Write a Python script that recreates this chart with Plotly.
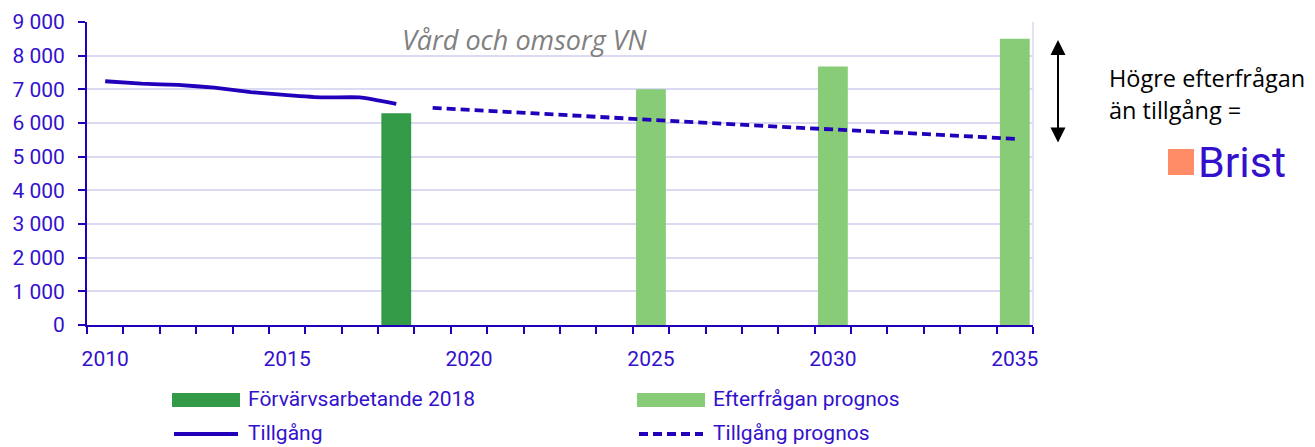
import plotly.graph_objects as go

# ---------------- data ----------------
years_hist = [2010, 2011, 2012, 2013, 2014, 2015, 2016, 2017, 2018]
tillgang = [7240, 7170, 7130, 7050, 6920, 6830, 6760, 6760, 6570]

years_prog = [2019, 2020, 2021, 2022, 2023, 2024, 2025, 2026, 2027,
              2028, 2029, 2030, 2031, 2032, 2033, 2034, 2035]
tillgang_prognos = [6450, 6390, 6330, 6270, 6200, 6140, 6080, 6030, 5970,
                    5920, 5860, 5810, 5760, 5700, 5640, 5590, 5530]

forv_year = [2018]
forv_value = [6290]

eft_years = [2025, 2030, 2035]
eft_values = [7000, 7680, 8500]

y_ticks = [0, 1000, 2000, 3000, 4000, 5000, 6000, 7000, 8000, 9000]
x_label_years = [2010, 2015, 2020, 2025, 2030, 2035]

title_text = "Vård och omsorg VN"
names = ["Förvärvsarbetande 2018", "Efterfrågan prognos", "Tillgång", "Tillgång prognos"]

# ---------------- styles ----------------
BLUE_LINE = "#2200BB"
BLUE_TXT = "#3311CC"
DARK_GREEN = "#339A47"
LIGHT_GREEN = "#88CC77"
GRID = "#DADAF2"
CORAL = "#FF8C66"

PAGE_W, PAGE_H = 1315, 447
OFF = 8  # default body margin of the html page
W, H = PAGE_W - OFF, PAGE_H - OFF
# plot area in page pixels
L, R, T, B = 87, 1033, 22, 325


def px(x):
    return (x - L) / (R - L)


def py(y):
    return (B - y) / (B - T)


fig = go.Figure()

fig.add_trace(go.Bar(x=forv_year, y=forv_value, name=names[0],
                     marker=dict(color=DARK_GREEN, line=dict(width=0)),
                     width=0.82, showlegend=False))
fig.add_trace(go.Bar(x=eft_years, y=eft_values, name=names[1],
                     marker=dict(color=LIGHT_GREEN, line=dict(width=0)),
                     width=0.82, showlegend=False))
fig.add_trace(go.Scatter(x=years_hist, y=tillgang, name=names[2], mode="lines",
                         line=dict(color=BLUE_LINE, width=3.8, shape="spline", smoothing=0.4),
                         showlegend=False))
fig.add_trace(go.Scatter(x=years_prog, y=tillgang_prognos, name=names[3], mode="lines",
                         line=dict(color=BLUE_LINE, width=3.8, dash="9px,5px"),
                         showlegend=False))

first_year = years_hist[0]
last_year = years_prog[-1]

fig.update_layout(
    width=W, height=H,
    margin=dict(l=L - OFF, r=PAGE_W - R, t=T - OFF, b=PAGE_H - B, pad=0, autoexpand=False),
    paper_bgcolor="white", plot_bgcolor="white",
    font=dict(family="Roboto", color=BLUE_TXT, size=21),
    barmode="overlay",
    xaxis=dict(
        automargin=False,
        range=[first_year - 0.5, last_year + 0.5],
        tickmode="array", tickvals=x_label_years,
        ticktext=[str(v) for v in x_label_years],
        ticks="outside", ticklen=7, tickcolor="rgba(0,0,0,0)",
        ticklabelstandoff=7,
        tickfont=dict(family="Roboto", size=21, color=BLUE_TXT),
        showgrid=False, zeroline=False,
        showline=True, linecolor=BLUE_LINE, linewidth=2,
        minor=dict(tickmode="linear", tick0=first_year - 0.5, dtick=1,
                   ticks="outside", ticklen=7, tickwidth=2, tickcolor=BLUE_LINE,
                   showgrid=False),
    ),
    yaxis=dict(
        automargin=False,
        range=[0, 9000],
        tickmode="array", tickvals=y_ticks,
        ticktext=[f"{v:,}".replace(",", " ") for v in y_ticks],
        ticks="outside", ticklen=7, tickwidth=2, tickcolor=BLUE_LINE,
        ticklabelstandoff=9,
        tickfont=dict(family="Roboto", size=21, color=BLUE_TXT),
        showgrid=True, gridcolor=GRID, gridwidth=1.5,
        zeroline=False,
        showline=True, linecolor=BLUE_LINE, linewidth=2,
    ),
)

shapes = []
annotations = []

# right plot border
shapes.append(dict(type="line", xref="paper", yref="paper", x0=1, x1=1, y0=0, y1=1,
                   line=dict(color=GRID, width=1.5)))

# custom legend
legend_items = [
    (172, 400, "bar", DARK_GREEN, names[0]),
    (637, 400, "bar", LIGHT_GREEN, names[1]),
    (172, 434, "line", BLUE_LINE, names[2]),
    (637, 434, "dash", BLUE_LINE, names[3]),
]
for x0, yc, kind, col, label in legend_items:
    if kind == "bar":
        shapes.append(dict(type="rect", xref="paper", yref="paper",
                           x0=px(x0), x1=px(x0 + 68), y0=py(yc + 7), y1=py(yc - 7),
                           fillcolor=col, line=dict(width=0)))
    else:
        shapes.append(dict(type="line", xref="paper", yref="paper",
                           x0=px(x0 + 2), x1=px(x0 + 66), y0=py(yc), y1=py(yc),
                           line=dict(color=col, width=4,
                                     dash="solid" if kind == "line" else "9px,5px")))
    annotations.append(dict(xref="paper", yref="paper", x=px(x0 + 74), y=py(yc - 1),
                            xanchor="left", yanchor="middle", showarrow=False,
                            text=label, font=dict(family="Roboto", size=21, color=BLUE_TXT)))

# chart title inside the plot
annotations.append(dict(xref="paper", yref="paper", x=px(525), y=py(39),
                        xanchor="center", yanchor="middle", showarrow=False,
                        text=f"<i>{title_text}</i>",
                        font=dict(family="Open Sans", size=27, color="#808080")))

# double arrow
annotations.append(dict(xref="paper", yref="paper", x=px(1058), y=py(40),
                        ax=0, ay=104, axref="pixel", ayref="pixel",
                        text="", showarrow=True, arrowside="end+start",
                        arrowhead=2, arrowsize=1.5, arrowwidth=2, arrowcolor="black"))

# side text
annotations.append(dict(xref="paper", yref="paper", x=px(1107), y=py(78),
                        xanchor="left", yanchor="middle", showarrow=False,
                        text="Högre efterfrågan",
                        font=dict(family="Open Sans", size=23.5, color="black")))
annotations.append(dict(xref="paper", yref="paper", x=px(1107), y=py(110),
                        xanchor="left", yanchor="middle", showarrow=False,
                        text="än tillgång =",
                        font=dict(family="Open Sans", size=23.5, color="black")))

# Brist marker
shapes.append(dict(type="rect", xref="paper", yref="paper",
                   x0=px(1168), x1=px(1194), y0=py(175), y1=py(149),
                   fillcolor=CORAL, line=dict(width=0)))
annotations.append(dict(xref="paper", yref="paper", x=px(1196), y=py(162),
                        xanchor="left", yanchor="middle", showarrow=False,
                        text="Brist",
                        font=dict(family="Roboto", size=43, color=BLUE_TXT)))

fig.update_layout(shapes=shapes, annotations=annotations)

fig.write_html("out.html")
